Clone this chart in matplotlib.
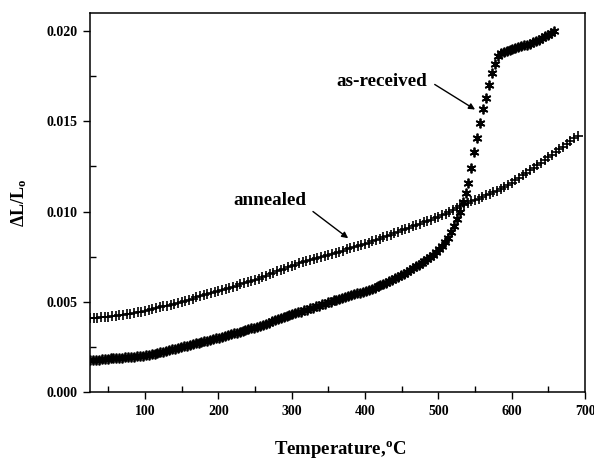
import numpy as np
import matplotlib
matplotlib.use('Agg')
import matplotlib.pyplot as plt
from matplotlib.ticker import MultipleLocator, FormatStrFormatter

# ── DATA ─────────────────────────────────────────────────────────────────────
# annealed sample, sampled every 5 degC from 25 to 690
temp_annealed = np.arange(25, 691, 5)
dl_annealed = [
    0.00408, 0.00410, 0.00412, 0.00414, 0.00416, 0.00418, 0.00420, 0.00422,
    0.00425, 0.00428, 0.00431, 0.00434, 0.00438, 0.00442, 0.00446, 0.00450,
    0.00454, 0.00459, 0.00464, 0.00469, 0.00474, 0.00479, 0.00484, 0.00489, 0.00494, 0.00500,
    0.00506, 0.00512, 0.00518, 0.00524, 0.00530, 0.00536, 0.00542, 0.00548, 0.00554, 0.00560,
    0.00566, 0.00572, 0.00578, 0.00584, 0.00590, 0.00596, 0.00602, 0.00608, 0.00614, 0.00620,
    0.00628, 0.00636, 0.00644, 0.00652, 0.00660, 0.00668, 0.00676, 0.00684, 0.00692, 0.00700,
    0.00706, 0.00712, 0.00718, 0.00724, 0.00730, 0.00736, 0.00742, 0.00748, 0.00754, 0.00760,
    0.00766, 0.00772, 0.00778, 0.00784, 0.00790, 0.00796, 0.00802, 0.00808, 0.00814, 0.00820,
    0.00828, 0.00835, 0.00842, 0.00850, 0.00858, 0.00865, 0.00872, 0.00880, 0.00888, 0.00895,
    0.00902, 0.00910, 0.00918, 0.00925, 0.00932, 0.00940, 0.00948, 0.00955, 0.00962, 0.00970,
    0.00979, 0.00988, 0.00998, 0.01008, 0.01018, 0.01028, 0.01038, 0.01048, 0.01056, 0.01064,
    0.01072, 0.01080, 0.01089, 0.01098, 0.01107, 0.01116, 0.01125, 0.01134, 0.01145, 0.01157,
    0.01173, 0.01186, 0.01200, 0.01214, 0.01228, 0.01242, 0.01256, 0.01270, 0.01285, 0.01300,
    0.01315, 0.01330, 0.01345, 0.01360, 0.01375, 0.01390, 0.01405, 0.01420,
]

# as-received sample, sampled every 4 degC from 25 to 657
temp_received = np.arange(25, 658, 4)
dl_received = [
    0.00176, 0.00177, 0.00178, 0.00180, 0.00181, 0.00183, 0.00185,
    0.00186, 0.00187, 0.00188, 0.00189, 0.00190, 0.00192, 0.00193, 0.00195, 0.00196, 0.00198,
    0.00200, 0.00202, 0.00204,
    0.00207, 0.00210, 0.00213, 0.00217, 0.00220, 0.00224, 0.00228, 0.00232, 0.00236, 0.00240,
    0.00245, 0.00249,
    0.00253, 0.00257, 0.00261, 0.00265, 0.00269, 0.00273, 0.00277, 0.00281, 0.00285, 0.00289,
    0.00293, 0.00297, 0.00301,
    0.00306, 0.00311, 0.00315, 0.00320, 0.00325, 0.00329, 0.00334, 0.00339, 0.00343, 0.00348,
    0.00352, 0.00357,
    0.00362, 0.00368, 0.00374, 0.00379, 0.00385, 0.00391, 0.00397, 0.00403, 0.00408,
    0.00413, 0.00419, 0.00424, 0.00430, 0.00435, 0.00441, 0.00446,
    0.00452, 0.00457, 0.00463, 0.00468, 0.00474, 0.00479, 0.00485, 0.00490, 0.00496, 0.00501,
    0.00507, 0.00512, 0.00518,
    0.00523, 0.00528, 0.00532, 0.00537, 0.00542, 0.00546, 0.00551, 0.00556, 0.00561,
    0.00567, 0.00573, 0.00579, 0.00585, 0.00591,
    0.00597, 0.00605, 0.00613, 0.00621, 0.00629, 0.00638, 0.00647, 0.00656, 0.00665, 0.00675,
    0.00686,
    0.00696, 0.00706, 0.00716, 0.00726, 0.00737, 0.00748, 0.00760,
    0.00775, 0.00792, 0.00810, 0.00830, 0.00855, 0.00885, 0.00920, 0.00960,
    0.01000, 0.01050, 0.01100, 0.01160, 0.01240, 0.01330, 0.01410, 0.01490, 0.01570, 0.01630,
    0.01700, 0.01770, 0.01820, 0.01860, 0.01878, 0.01885, 0.01890, 0.01895, 0.01900, 0.01905,
    0.01910, 0.01915, 0.01920, 0.01925, 0.01930, 0.01937, 0.01944, 0.01952, 0.01960, 0.01970,
    0.01980, 0.01990, 0.02000,
]

# annotation text positions and arrow (tail, head) in data coords
LABELS = [
    ("annealed",    (270, 0.01037), (329, 0.01000), (377, 0.00852)),
    ("as-received", (423, 0.01698), (495, 0.01704), (550, 0.01565)),
]

# ── STYLE ────────────────────────────────────────────────────────────────────
SERIF = 'Liberation Serif'
plt.rcParams['font.family'] = SERIF
plt.rcParams['font.weight'] = 'bold'
plt.rcParams['mathtext.fontset'] = 'custom'
plt.rcParams['mathtext.rm'] = SERIF + ':bold'
plt.rcParams['mathtext.it'] = SERIF + ':italic:bold'
plt.rcParams['mathtext.bf'] = SERIF + ':bold'

fig = plt.figure(figsize=(5.94, 4.62), dpi=100)
ax = fig.add_axes([0.1515, 0.1515, 0.8335, 0.8204])

ax.plot(temp_annealed, dl_annealed, ls='none', marker='+', ms=7,
        mew=1.2, color='black')
ax.plot(temp_received, dl_received, ls='none', marker=(6, 2, 0), ms=7,
        mew=1.3, color='black')

for text, txt_xy, tail, head in LABELS:
    ax.text(txt_xy[0], txt_xy[1], text, ha='center', va='baseline',
            fontsize=13.8, fontweight='bold')
    ax.annotate('', xy=head, xytext=tail,
                arrowprops=dict(arrowstyle='-|>', color='black', lw=1.0,
                                mutation_scale=9, shrinkA=0, shrinkB=0))

ax.set_xlim(25, 700)
ax.set_ylim(0, 0.021)
ax.xaxis.set_major_locator(MultipleLocator(100))
ax.xaxis.set_minor_locator(MultipleLocator(50))
ax.yaxis.set_major_locator(MultipleLocator(0.005))
ax.yaxis.set_minor_locator(MultipleLocator(0.0025))
ax.yaxis.set_major_formatter(FormatStrFormatter('%.3f'))

ax.tick_params(which='major', direction='out', length=5, width=1.0,
               labelsize=10, pad=4)
ax.tick_params(which='minor', direction='in', length=4, width=1.0)
ax.tick_params(top=False, right=False, which='both')
for sp in ax.spines.values():
    sp.set_linewidth(1.1)

ax.set_xlabel("Temperature,$^{\\mathrm{o}}$C", fontsize=13.5, fontweight='bold')
ax.set_ylabel("\u0394L/L$_{\\mathrm{o}}$", fontsize=13, fontweight='bold')
ax.xaxis.set_label_coords(0.505, -0.125)
ax.yaxis.set_label_coords(-0.123, 0.5)

fig.savefig('out.png', dpi=100)
